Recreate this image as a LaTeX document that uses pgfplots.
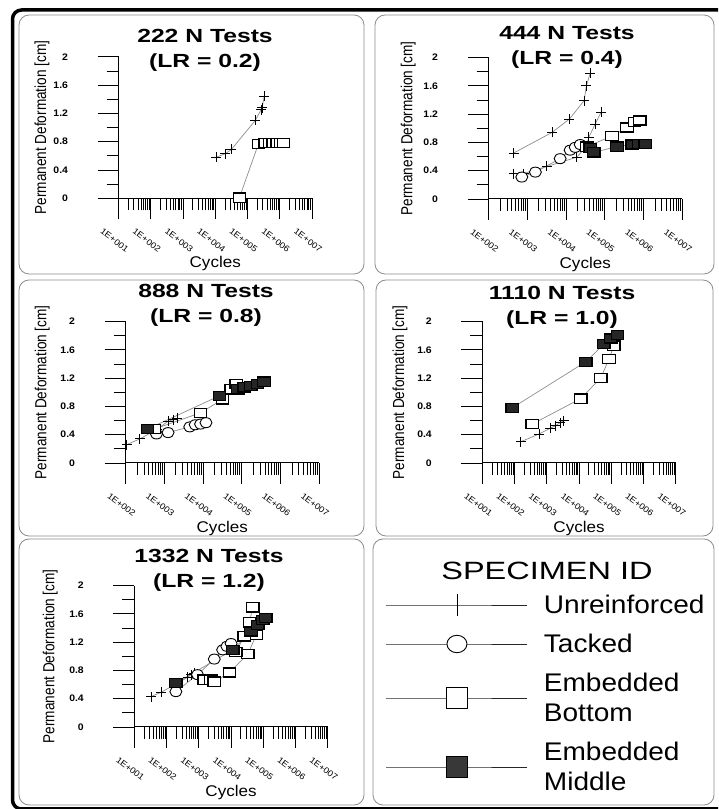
\documentclass[border=0pt]{standalone}
\usepackage{fontspec}
\setmainfont{Liberation Sans}[FakeStretch=1.1]
\newfontfamily\titlefont{Liberation Sans}[FakeStretch=1.3]
\newfontfamily\ylfont{Liberation Sans}[FakeStretch=0.85]
\usepackage{pgfplots}
\pgfplotsset{compat=1.18}

\pgfplotsset{
 panel/.style={
  scale only axis, width=193.5pt, height=141.5pt,
  xmax=1e7, ymin=0, ymax=2,
  axis x line=bottom, axis y line=left,
  axis line style={-, black, line width=1pt},
  tick align=outside,
  major tick length=21pt, minor tick length=12pt,
  tick style={black, line width=0.8pt},
  clip=false,
  ytick={0,0.4,0.8,1.2,1.6,2}, yticklabels={0,0.4,0.8,1.2,1.6,2},
  minor ytick={0.2,0.6,1.0,1.4,1.8},
  minor xtick={2e1,3e1,4e1,5e1,6e1,7e1,8e1,9e1,2e2,3e2,4e2,5e2,6e2,7e2,8e2,9e2,2e3,3e3,4e3,5e3,6e3,7e3,8e3,9e3,2e4,3e4,4e4,5e4,6e4,7e4,8e4,9e4,2e5,3e5,4e5,5e5,6e5,7e5,8e5,9e5,2e6,3e6,4e6,5e6,6e6,7e6,8e6,9e6},
  xticklabel style={font=\fontsize{8.5}{9}\selectfont, anchor=center, xshift=-4pt, yshift=-21pt, rotate=-37},
  yticklabel style={font=\bfseries\fontsize{9.5}{12}\selectfont, anchor=east, xshift=-26pt},
  xlabel={Cycles}, ylabel={Permanent Deformation [cm]},
  xlabel style={at={(axis description cs:0.5,0)}, anchor=center, yshift=-65pt, font=\fontsize{15.5}{18}\selectfont},
  ylabel style={font=\ylfont\fontsize{16}{18}\selectfont, anchor=center},
 },
 dec1/.style={xmin=1e1, xtick={1e1,1e2,1e3,1e4,1e5,1e6,1e7}, xticklabels={1E+001,1E+002,1E+003,1E+004,1E+005,1E+006,1E+007}},
 dec2/.style={xmin=1e2, xtick={1e2,1e3,1e4,1e5,1e6,1e7}, xticklabels={1E+002,1E+003,1E+004,1E+005,1E+006,1E+007}},
 lineS/.style={black!45, line width=0.7pt},
 unre/.style={lineS, mark=+, mark size=5pt, mark options={black, line width=0.9pt}},
 tack/.style={lineS, mark=*, mark size=5pt, mark options={draw=black, fill=white, line width=0.9pt, xscale=1.2}},
 ebot/.style={lineS, mark=square*, mark size=4.6pt, mark options={draw=black, fill=white, line width=1.3pt, xscale=1.35}},
 emid/.style={lineS, mark=square*, mark size=4.6pt, mark options={draw=black, fill=black!85, line width=1.3pt, xscale=1.35}},
}

\begin{document}
\begin{tikzpicture}[x=1pt,y=1pt]
\path[use as bounding box] (0pt,0pt) rectangle (718pt,809pt);
\begin{scope}
\clip (0pt,0pt) rectangle (718pt,809pt);
\draw[line width=3.5pt, rounded corners=9pt] (12.5pt,0pt) rectangle (740pt,799pt);
\end{scope}
% panel boxes
\begin{scope}[black!45, line width=0.8pt, rounded corners=10pt]
\draw (19pt,535pt) rectangle (364pt,794pt);
\draw (375pt,535pt) rectangle (714pt,794pt);
\draw (19pt,273pt) rectangle (364pt,529pt);
\draw (376pt,273pt) rectangle (713pt,529pt);
\draw (19pt,4pt) rectangle (364pt,270pt);
\draw (373pt,4pt) rectangle (714pt,270pt);
\end{scope}
% titles
\begin{scope}[font=\titlefont\bfseries\fontsize{19}{25}\selectfont]
\node[align=center] at (205pt,758.5pt) {222 N Tests\\(LR = 0.2)};
\node[align=center] at (567pt,761.5pt) {444 N Tests\\(LR = 0.4)};
\node[align=center] at (206pt,504pt) {888 N Tests\\(LR = 0.8)};
\node[align=center] at (562pt,502pt) {1110 N Tests\\(LR = 1.0)};
\node[align=center] at (209pt,239pt) {1332 N Tests\\(LR = 1.2)};
\end{scope}

% Panel 1: 222 N
\begin{semilogxaxis}[panel, dec1, at={(118.5pt,610.7pt)}, anchor=south west, ylabel style={at={(axis description cs:-0.395,0.5)}}]
\addplot[unre] coordinates {(1.072e4,0.58) (2.042e4,0.63) (3.162e4,0.69) (1.738e5,1.10) (2.630e5,1.25) (2.818e5,1.28) (3.311e5,1.44)};
\addplot[ebot] coordinates {(5.623e4,0.01) (2.188e5,0.77) (3.548e5,0.78) (4.786e5,0.78) (6.310e5,0.78) (8.318e5,0.78) (1.072e6,0.78) (1.318e6,0.78)};
\end{semilogxaxis}

% Panel 2: 444 N
\begin{semilogxaxis}[panel, dec2, at={(488.5pt,610pt)}, anchor=south west, ylabel style={at={(axis description cs:-0.415,0.5)}}]
\addplot[unre] coordinates {(4.467e2,0.65) (4.365e3,0.94) (1.230e4,1.13) (2.951e4,1.39) (3.388e4,1.60) (4.266e4,1.78)};
\addplot[unre] coordinates {(4.467e2,0.36) (8.128e2,0.36) (3.236e3,0.46) (1.905e4,0.59) (3.311e4,0.74) (3.890e4,0.87) (5.754e4,1.06) (8.128e4,1.23)};
\addplot[tack] coordinates {(7.244e2,0.31) (1.622e3,0.38) (7.079e3,0.57) (1.288e4,0.69) (1.738e4,0.73) (2.344e4,0.77)};
\addplot[ebot] coordinates {(3.467e4,0.74) (1.549e5,0.89) (3.802e5,1.01) (5.888e5,1.09) (8.128e5,1.11)};
\addplot[emid] coordinates {(4.266e4,0.72) (5.248e4,0.66) (2.089e5,0.74) (5.129e5,0.77) (7.586e5,0.78) (1.122e6,0.78)};
\end{semilogxaxis}

% Panel 3: 888 N
\begin{semilogxaxis}[panel, dec2, at={(125.5pt,346pt)}, anchor=south west, ylabel style={at={(axis description cs:-0.43,0.5)}}]
\addplot[unre] coordinates {(1.072e2,0.26) (2.344e2,0.34) (6.607e2,0.48) (1.259e3,0.59) (1.698e3,0.61) (2.188e3,0.63)};
\addplot[tack] coordinates {(6.310e2,0.41) (1.259e3,0.43) (4.571e3,0.51) (6.310e3,0.54) (8.710e3,0.55) (1.202e4,0.57)};
\addplot[ebot] coordinates {(5.623e2,0.48) (8.710e3,0.71) (3.236e4,0.90) (5.370e4,1.04) (7.244e4,1.12)};
\addplot[emid] coordinates {(3.715e2,0.48) (2.692e4,0.95) (7.943e4,1.04) (1.175e5,1.07) (1.738e5,1.09) (2.570e5,1.12) (3.802e5,1.15)};
\end{semilogxaxis}

% Panel 4: 1110 N
\begin{semilogxaxis}[panel, dec1, at={(482.3pt,346pt)}, anchor=south west, ylabel style={at={(axis description cs:-0.425,0.5)}}]
\addplot[unre] coordinates {(1.549e2,0.30) (5.754e2,0.41) (1.259e3,0.49) (1.905e3,0.53) (2.570e3,0.57) (3.388e3,0.60)};
\addplot[ebot] coordinates {(3.548e2,0.55) (1.122e4,0.91) (4.677e4,1.20) (8.511e4,1.47) (1.202e5,1.66)};
\addplot[emid] coordinates {(8.511e1,0.78) (1.622e4,1.43) (5.888e4,1.68) (9.550e4,1.76) (1.549e5,1.81)};
\end{semilogxaxis}

% Panel 5: 1332 N
\begin{semilogxaxis}[panel, dec1, at={(134.3pt,82pt)}, anchor=south west, ylabel style={at={(axis description cs:-0.435,0.5)}}]
\addplot[unre] coordinates {(3.311e1,0.43) (6.761e1,0.49) (4.467e2,0.70) (5.754e2,0.74) (7.244e2,0.76)};
\addplot[tack] coordinates {(1.950e2,0.50) (9.120e2,0.74) (3.020e3,0.96) (5.495e3,1.09) (7.413e3,1.14) (1.0e4,1.18)};
\addplot[ebot] coordinates {(1.479e3,0.67) (2.399e3,0.67) (3.020e3,0.64) (8.913e3,0.77) (3.311e4,1.03) (6.026e4,1.30)};
\addplot[ebot] coordinates {(1.413e4,1.06) (2.570e4,1.28) (3.715e4,1.48) (4.677e4,1.69)};
\addplot[emid] coordinates {(1.950e2,0.62) (1.122e4,1.09) (4.169e4,1.35) (6.761e4,1.44) (9.550e4,1.51) (1.202e5,1.54)};
\end{semilogxaxis}

% Legend panel
\node[font=\titlefont\fontsize{25}{30}\selectfont] at (547pt,238pt) {SPECIMEN ID};
\begin{axis}[hide axis, scale only axis, width=100pt, height=100pt, at={(0pt,0pt)}, anchor=south west,
  xmin=0, xmax=1, ymin=0, ymax=1,
  legend style={at={(3.86,2.235)}, anchor=north west, draw=none, fill=none, inner sep=0pt, outer sep=0pt,
    row sep=0pt, column sep=16pt, font=\fontsize{25.5}{30}\selectfont,
    cells={anchor=west, align=left}, nodes={inner sep=0pt}}]
\addlegendimage{legend image code/.code={\path[draw=none,fill=none] (0pt,-19.5pt) rectangle (0.1pt,19.5pt);
  \draw[black!85, line width=0.9pt, mark=|, mark size=11pt, mark repeat=2, mark phase=2, mark options={black}] plot coordinates {(0pt,0pt) (70.5pt,0pt) (141pt,0pt)};}}
\addlegendentry{Unreinforced}
\addlegendimage{legend image code/.code={\path[draw=none,fill=none] (0pt,-19.5pt) rectangle (0.1pt,19.5pt);
  \draw[black!85, line width=0.9pt, mark=*, mark size=10pt, mark repeat=2, mark phase=2, mark options={draw=black, fill=white, yscale=0.87}] plot coordinates {(0pt,0pt) (70.5pt,0pt) (141pt,0pt)};}}
\addlegendentry{Tacked}
\addlegendimage{legend image code/.code={\path[draw=none,fill=none] (0pt,-34.5pt) rectangle (0.1pt,34.5pt);
  \draw[black!85, line width=0.9pt, mark=square*, mark size=10.5pt, mark repeat=2, mark phase=2, mark options={draw=black, fill=white, line width=1.2pt}] plot coordinates {(0pt,0pt) (70.5pt,0pt) (141pt,0pt)};}}
\addlegendentry{Embedded\\Bottom}
\addlegendimage{legend image code/.code={\path[draw=none,fill=none] (0pt,-34.5pt) rectangle (0.1pt,34.5pt);
  \draw[black!85, line width=0.9pt, mark=square*, mark size=10.5pt, mark repeat=2, mark phase=2, mark options={draw=black, fill=black!78, line width=1.2pt}] plot coordinates {(0pt,0pt) (70.5pt,0pt) (141pt,0pt)};}}
\addlegendentry{Embedded\\Middle}
\end{axis}
\end{tikzpicture}
\end{document}
